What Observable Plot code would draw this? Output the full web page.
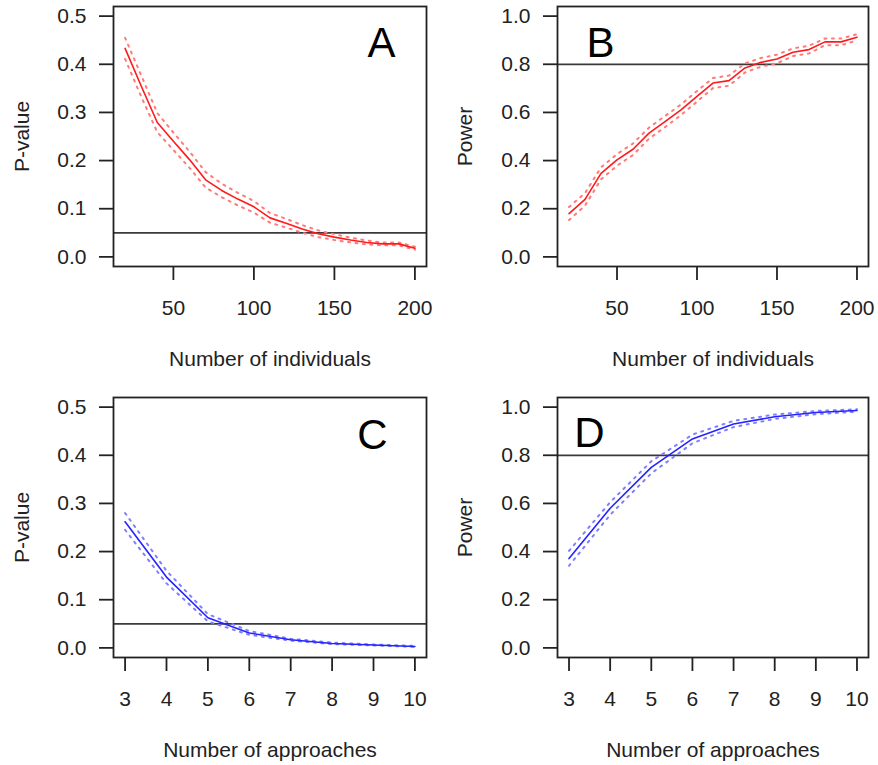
<!DOCTYPE html>
<html>
<head>
<meta charset="utf-8">
<script src="https://cdn.jsdelivr.net/npm/d3@7"></script>
<script src="https://cdn.jsdelivr.net/npm/@observablehq/plot@0.6"></script>
<style>
  html, body { margin: 0; padding: 0; background: #fff; }
  #wrap { position: relative; width: 878px; height: 765px; }
  .panel { position: absolute; }
</style>
</head>
<body>
<div id="wrap"></div>
<script>
// ---- data ----
const individuals = [20, 30, 40, 50, 60, 70, 80, 90, 100, 110, 120, 130, 140, 150, 160, 170, 180, 190, 200];
const approaches = [3, 4, 5, 6, 7, 8, 9, 10];

// Panel A: P-value vs number of individuals (mean, upper, lower)
const pvalInd = [0.433, 0.355, 0.279, 0.240, 0.202, 0.160, 0.138, 0.120, 0.104, 0.081, 0.070, 0.058, 0.048, 0.041, 0.035, 0.030, 0.027, 0.027, 0.018];
const pvalIndHi = [0.455, 0.377, 0.299, 0.258, 0.219, 0.176, 0.152, 0.133, 0.116, 0.091, 0.079, 0.066, 0.055, 0.047, 0.040, 0.034, 0.030, 0.030, 0.021];
const pvalIndLo = [0.411, 0.333, 0.259, 0.222, 0.185, 0.144, 0.124, 0.107, 0.092, 0.071, 0.061, 0.050, 0.041, 0.035, 0.030, 0.026, 0.024, 0.024, 0.015];

// Panel B: Power vs number of individuals
const powInd = [0.180, 0.239, 0.347, 0.403, 0.447, 0.514, 0.562, 0.611, 0.667, 0.722, 0.732, 0.785, 0.808, 0.822, 0.850, 0.861, 0.893, 0.893, 0.912];
const powIndHi = [0.207, 0.265, 0.372, 0.427, 0.471, 0.537, 0.585, 0.633, 0.689, 0.743, 0.753, 0.804, 0.826, 0.840, 0.866, 0.877, 0.907, 0.907, 0.925];
const powIndLo = [0.153, 0.213, 0.322, 0.379, 0.423, 0.491, 0.539, 0.589, 0.645, 0.701, 0.711, 0.766, 0.790, 0.804, 0.834, 0.845, 0.879, 0.879, 0.899];

// Panel C: P-value vs number of approaches
const pvalApp = [0.262, 0.147, 0.0625, 0.031, 0.017, 0.009, 0.006, 0.003];
const pvalAppHi = [0.280, 0.160, 0.070, 0.035, 0.019, 0.011, 0.007, 0.004];
const pvalAppLo = [0.245, 0.134, 0.055, 0.027, 0.015, 0.008, 0.005, 0.002];

// Panel D: Power vs number of approaches
const powApp = [0.371, 0.580, 0.750, 0.868, 0.930, 0.960, 0.978, 0.986];
const powAppHi = [0.403, 0.605, 0.775, 0.886, 0.943, 0.969, 0.984, 0.991];
const powAppLo = [0.341, 0.553, 0.725, 0.850, 0.917, 0.951, 0.971, 0.981];

const xTicksInd = [50, 100, 150, 200];
const xTicksApp = [3, 4, 5, 6, 7, 8, 9, 10];
const yTicksP = [0, 0.1, 0.2, 0.3, 0.4, 0.5];
const yTicksPow = [0, 0.2, 0.4, 0.6, 0.8, 1.0];
const thresholdP = 0.05;
const thresholdPow = 0.8;

// ---- drawing ----
const FONT = "'Liberation Sans', Arial, Helvetica, sans-serif";
const INK = "#222222";

function rows(xs, m, hi, lo) {
  return xs.map((x, i) => ({x, m: m[i], hi: hi[i], lo: lo[i]}));
}

function panel(cfg) {
  const data = rows(cfg.xs, cfg.m, cfg.hi, cfg.lo);
  const dotted = {x: "x", stroke: cfg.light, strokeWidth: 2, strokeDasharray: "2,5.5"};
  const fig = Plot.plot({
    width: cfg.width,
    height: cfg.height,
    marginLeft: cfg.ml, marginRight: cfg.mr, marginTop: cfg.mt, marginBottom: cfg.mb,
    style: {fontFamily: FONT, fontSize: "21px", color: INK, background: "white", overflow: "visible"},
    x: {domain: cfg.xdom},
    y: {domain: cfg.ydom},
    marks: [
      Plot.ruleY([cfg.thr], {stroke: "#3a3a3a", strokeWidth: 1.7}),
      Plot.line(data, {...dotted, y: "hi"}),
      Plot.line(data, {...dotted, y: "lo"}),
      Plot.line(data, {x: "x", y: "m", stroke: cfg.color, strokeWidth: 1.6}),
      Plot.frame({stroke: INK, strokeWidth: 1.8}),
      Plot.axisX(cfg.xticks, {tickSize: 14, tickPadding: 20, fontSize: 21, stroke: INK, strokeWidth: 1.8, fill: INK, label: null}),
      Plot.axisY(cfg.yticks, {tickSize: 14, tickPadding: 13, fontSize: 21, stroke: INK, strokeWidth: 1.8, fill: INK, label: null, tickFormat: d => d.toFixed(1)}),
      Plot.text([cfg.xlabel], {frameAnchor: "bottom", dy: 93, lineAnchor: "middle", fontSize: 21, fill: INK}),
      Plot.text([cfg.ylabel], {frameAnchor: "left", dx: cfg.ydx, rotate: -90, lineAnchor: "middle", textAnchor: "middle", fontSize: 21, fill: INK}),
      Plot.text([cfg.letter], {frameAnchor: cfg.lAnchor, dx: cfg.ldx, dy: cfg.ldy, textAnchor: "middle", lineAnchor: "middle", fontSize: 42, fill: "#000"})
    ]
  });
  const div = document.createElement("div");
  div.className = "panel";
  div.style.left = cfg.left + "px";
  div.style.top = cfg.top + "px";
  div.appendChild(fig);
  document.getElementById("wrap").appendChild(div);
}

const RED = "#ff1a1a", REDL = "#ff7a7a";
const BLUE = "#2424ff", BLUEL = "#7f7fff";

panel({left: 0, top: 0, width: 439, height: 380, ml: 113, mr: 13, mt: 6, mb: 114,
  xs: individuals, m: pvalInd, hi: pvalIndHi, lo: pvalIndLo, color: RED, light: REDL,
  xdom: [12.8, 207.2], ydom: [-0.02, 0.52], xticks: xTicksInd, yticks: yTicksP, thr: thresholdP,
  xlabel: "Number of individuals", ylabel: "P-value", ydx: -91,
  letter: "A", lAnchor: "top-right", ldx: -45, ldy: 37});

panel({left: 440, top: 0, width: 438, height: 380, ml: 117, mr: 10, mt: 6, mb: 114,
  xs: individuals, m: powInd, hi: powIndHi, lo: powIndLo, color: RED, light: REDL,
  xdom: [12.8, 207.2], ydom: [-0.04, 1.04], xticks: xTicksInd, yticks: yTicksPow, thr: thresholdPow,
  xlabel: "Number of individuals", ylabel: "Power", ydx: -92,
  letter: "B", lAnchor: "top-left", ldx: 43, ldy: 37});

panel({left: 0, top: 380, width: 439, height: 385, ml: 113, mr: 13, mt: 17, mb: 108,
  xs: approaches, m: pvalApp, hi: pvalAppHi, lo: pvalAppLo, color: BLUE, light: BLUEL,
  xdom: [2.72, 10.28], ydom: [-0.02, 0.52], xticks: xTicksApp, yticks: yTicksP, thr: thresholdP,
  xlabel: "Number of approaches", ylabel: "P-value", ydx: -91,
  letter: "C", lAnchor: "top-right", ldx: -54, ldy: 38});

panel({left: 440, top: 380, width: 438, height: 385, ml: 117, mr: 10, mt: 17, mb: 108,
  xs: approaches, m: powApp, hi: powAppHi, lo: powAppLo, color: BLUE, light: BLUEL,
  xdom: [2.72, 10.28], ydom: [-0.04, 1.04], xticks: xTicksApp, yticks: yTicksPow, thr: thresholdPow,
  xlabel: "Number of approaches", ylabel: "Power", ydx: -92,
  letter: "D", lAnchor: "top-left", ldx: 32, ldy: 36});
</script>
</body>
</html>
